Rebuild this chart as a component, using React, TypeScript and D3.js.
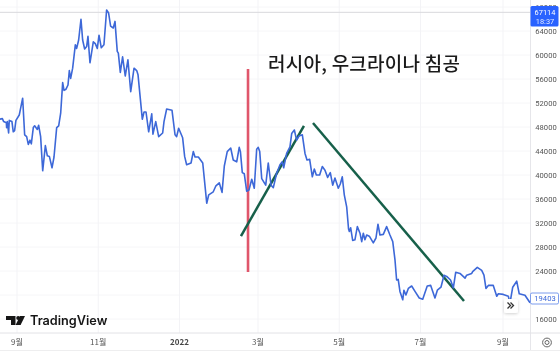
import React from "react";
import * as d3 from "d3";

// Days since 2021-09-01 and price (thousands of USD) of the BTC line
const days = [-13,-11,-10,-8,-7.8,-7.3,-6.3,-5.8,-3.8,-2.8,-1.8,-0.8,1.7,2.7,4.25,5.75,7.25,8.5,9.75,10.75,12.25,13.25,15.25,16.25,17.75,19.3,21.3,22.8,24.3,26.3,27.8,29.8,31.3,32.8,34.3,35.3,36.8,38.3,39.3,40.3,41.8,43.8,44.8,46.3,48.05,49.3,50.8,52.3,53.3,54.8,57.3,58.8,60.3,61.6,63.3,65.3,67.3,68.8,70.3,72.3,73.6,75.3,76.1,77.6,79.3,81.3,83.3,85.4,87.9,89.9,90.9,94.1,95.4,96.9,98.9,101.2,102.1,104.2,106.4,109.4,110.4,112.4,116.4,118.7,119.9,121.4,124.4,125.9,127.4,130.7,132.4,133.7,136.2,139.5,142.5,144,147.4,149.4,151.9,154,155.7,157.9,160.5,162.4,165,166.9,167.8,169.2,170.7,172.5,174.2,176.3,178.2,180,181.2,182.3,183.8,186.8,188.7,190.8,192.5,195,197.5,199.2,200.3,202.5,205,206.3,208.3,210,211.8,214.3,216.3,217.8,219.8,221.8,223.3,224.8,227.3,229.3,231.3,233.3,235.3,237.1,238.8,241.3,242.8,244.3,245.8,247.6,249,249.6,250.6,252.1,253.8,255.6,257.6,258.9,260.1,261.3,262.6,264.6,267.6,269.6,271.1,272.6,275.1,277.6,280.1,282.2,283.9,285.1,286.3,287.6,289.7,290.6,292.1,293.9,296.4,298.9,302.1,304.7,308.1,310.7,313.9,315.7,318.4,320.7,322.7,325.6,327.7,329.5,332.7,336.5,337.7,341.5,342.2,345.7,349,350.7,352.2,354,357.7,360.3,361.5,365.2,369,370.2,372.3,375.3,377.2,381.5,385.3];
const prices = [49.3,49.4,48.9,48.7,47.9,48.9,47,49.1,48.9,47.2,47.4,49.1,50,51.1,52.8,46.7,46.4,45.1,45.8,45.2,47.9,48.2,47.6,48.3,46.4,40.7,44.9,43.2,43.1,41.2,43,47.9,48.2,50.3,55.4,54.1,54.3,55,57.4,56.1,57.8,61.7,61.1,62.5,65.95,62.5,61,61.4,63.1,58.7,62.2,61.9,61.1,63.3,61.2,61.7,67.5,67,64.8,64.5,65.6,60.6,60.3,57.1,59.7,56.5,59.2,53.9,57.8,57.4,56.7,49.3,50.5,50.5,47.2,50.2,46.8,48.9,46.4,47,48.9,51,50.8,46.7,46.4,47.8,46.2,43.1,41.7,42,43.9,43,43,42,35.3,36.7,37.2,38.2,38.7,37.1,41.5,43.9,44.5,42.5,42.2,44.6,43.9,40.4,40.2,37.3,37.5,39.3,37.8,44.3,44.6,43.9,39.4,38.3,42,38.3,37.9,40.3,41.7,42.2,41.2,43.6,44.7,46.9,47.5,45.8,46.5,46.7,43.6,42.5,42.6,39.7,41,40,40,41.4,40.8,39.6,40.4,38.3,39.5,37.8,38.5,39.7,36.7,34.7,31,30.6,31.2,29.1,29.2,31.4,30.3,28.9,30.3,29.2,30,29.8,28.7,29.5,31.8,30,30.1,31.4,30,28.9,25.8,22.5,22.6,20.6,19.2,20.8,20,21.1,21.5,20.6,19.5,19.3,21.5,21.6,19.5,20.8,21.3,23.3,23.1,22.5,21.2,23.8,23.6,22.8,23.3,23.6,23.9,24.6,24.1,23.3,21.1,21.6,21.6,19.8,20.2,20.1,19.8,18.6,21.3,22.3,20.2,19.95,18.7];

const yTicks = [68000,64000,60000,56000,52000,48000,44000,40000,36000,32000,28000,24000,20000,16000];
const monthDates = [[2021,8],[2021,10],[2022,0],[2022,2],[2022,4],[2022,6],[2022,8]];
const monthLabels = ["9월","11월","2022","3월","5월","7월","9월"];
const lastPrice = 19403;
const highPrice = 67114;
const title = "러시아, 우크라이나 침공";
const invasionDay = [173.5,173.5];
const invasionPrice = [57.67,23.83];
const riseDays = [168.2,215.5];
const risePrice = [29.83,48.17];
const fallDays = [222.3,335.7];
const fallPrice = [48.67,19.0];

const W = 560, H = 354;
const FONT = "'Noto Sans CJK KR','Roboto',sans-serif";
const start = Date.UTC(2021,8,1);
const toDate = (d:number) => new Date(start + d*864e5);
const x = d3.scaleUtc().domain([new Date(start), new Date(Date.UTC(2022,8,1))]).range([17,503]);
const y = d3.scaleLinear().domain([16000,64000]).range([319,31]);
const lineGen = d3.line<[number,number]>().x(p=>x(toDate(p[0]))).y(p=>y(p[1]*1000)).curve(d3.curveLinear);
const zip = (a:number[],b:number[]) => a.map((v,i)=>[v,b[i]] as [number,number]);

export default function App(){
  const axisX = 530.5;
  return (
    <svg width={W} height={H} viewBox={`0 0 ${W} ${H}`} style={{position:"absolute",left:0,top:0,background:"#fff",filter:"blur(0.45px)"}} fontFamily={FONT}>
      <defs>
        <filter id="sh" x="-30%" y="-30%" width="160%" height="160%"><feDropShadow dx="0" dy="1" stdDeviation="1.5" floodColor="#000" floodOpacity="0.18"/></filter>
      </defs>
      {yTicks.map(t=><line key={t} x1={0} x2={axisX} y1={y(t)} y2={y(t)} stroke="#f6f6f8" strokeWidth={1}/>)}
      {monthDates.map((m,i)=>{const px=x(new Date(Date.UTC(m[0],m[1],1)));return <line key={i} x1={px} x2={px} y1={0} y2={333} stroke="#f3f3f6"/>;})}
      <line x1={0} x2={axisX} y1={y(highPrice)} y2={y(highPrice)} stroke="#d8d8dc" strokeWidth={1}/>
      <line x1={axisX} x2={axisX} y1={0} y2={350} stroke="#e6e6ea"/>
      <line x1={0} x2={W} y1={333} y2={333} stroke="#e2e2e6"/>
      <line x1={0} x2={W} y1={350.5} y2={350.5} stroke="#eeeeef"/>
      <path d={lineGen(zip(invasionDay,invasionPrice))!} stroke="#e0566b" strokeWidth={2.6} fill="none"/>
      <path d={lineGen(zip(riseDays,risePrice))!} stroke="#17604a" strokeWidth={2.5} fill="none"/>
      <path d={lineGen(zip(fallDays,fallPrice))!} stroke="#17604a" strokeWidth={2.5} fill="none"/>
      <path d={lineGen(zip(days,prices))!} stroke="#3d68d8" strokeWidth={1.6} fill="none" strokeLinejoin="round"/>
      <text x={268} y={71} fontSize={19} fontWeight={500} letterSpacing={0.25} fill="#1a1a1a">{title}</text>
      {yTicks.map(t=><text key={t} x={546} y={y(t)+2.8} fontSize={7.6} fill="#555" textAnchor="middle" fontFamily="Roboto,sans-serif">{t}</text>)}
      {monthDates.map((m,i)=>{const px=x(new Date(Date.UTC(m[0],m[1],1)));const isY=monthLabels[i]==="2022";return <text key={i} x={px} y={345} fontSize={8} fontWeight={isY?700:400} fill={isY?"#444":"#555"} textAnchor="middle">{monthLabels[i]}</text>;})}
      <rect x={530.5} y={6} width={28} height={20.5} rx={1.5} fill="#2962ff"/>
      <text x={545} y={14.5} fontSize={7.4} fill="#fff" textAnchor="middle" fontFamily="Roboto,sans-serif">{highPrice}</text>
      <text x={545} y={24} fontSize={7.4} fill="#dfe7ff" textAnchor="middle" fontFamily="Roboto,sans-serif">18:37</text>
      <rect x={530.5} y={293} width={28} height={11} rx={1.5} fill="#fff" stroke="#5c84e8" strokeWidth={0.8}/>
      <text x={545} y={301.4} fontSize={7.6} fill="#3d68d8" textAnchor="middle" fontFamily="Roboto,sans-serif">{lastPrice}</text>
      <rect x={504} y={299} width={14} height={14} rx={2.5} fill="#fff" filter="url(#sh)"/>
      <path d="M507.5 302.5 L510.5 305.5 L507.5 308.5 M510.5 302.5 L513.5 305.5 L510.5 308.5" fill="none" stroke="#333" strokeWidth={1.3}/>
      <circle cx={547} cy={342.5} r={2} fill="none" stroke="#666" strokeWidth={1}/>
      <circle cx={547} cy={342.5} r={4.4} fill="none" stroke="#666" strokeWidth={1}/>
      <g fill="#161616">
        <path d="M6 316 H15.5 V325 H11 V320 H6 Z"/>
        <circle cx={18.2} cy={318} r={2}/>
        <path d="M20 316 H25 L20.6 325 H15.6 Z"/>
      </g>
      <text x={30} y={325} fontSize={12.7} fontWeight={600} fill="#161616" fontFamily="Inter,Roboto,sans-serif">TradingView</text>
    </svg>
  );
}
